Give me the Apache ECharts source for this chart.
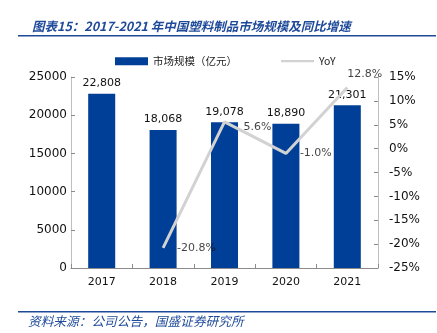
<!DOCTYPE html>
<html><head><meta charset="utf-8">
<script src="https://cdn.jsdelivr.net/npm/echarts@6/dist/echarts.min.js"></script>
<style>html,body{margin:0;padding:0;background:#fff}#c{width:437px;height:333px}</style>
</head><body><div id="c"></div>
<script>
const categories = ['2017','2018','2019','2020','2021'];
const marketSize = [22808, 18068, 19078, 18890, 21301];
const yoy = [null, -20.8, 5.6, -1.0, 12.8];
const leftTicks = [0, 5000, 10000, 15000, 20000, 25000];
const rightTicks = [-25, -20, -15, -10, -5, 0, 5, 10, 15];

const chart = echarts.init(document.getElementById('c'));
const yoyLabelPos = [null, 'right', [19, 0], 'right', [0, -19]];
const fontFam = '"DejaVu Sans", Verdana, sans-serif';
const axisGray = '#bfbfbf';
chart.setOption({
  animation: false,
  textStyle: { fontFamily: fontFam },
  title: {
    text: '图表15：2017-2021 年中国塑料制品市场规模及同比增速',
    left: 27, top: 15,
    textStyle: { color: '#1f4a9a', fontSize: 12.5, fontStyle: 'italic', fontWeight: 'bold', fontFamily: '"Noto Sans CJK SC", sans-serif' }
  },
  graphic: [
    { type: 'rect', shape: { x: 18, y: 35, width: 418, height: 1.5 }, style: { fill: '#1f4a9a' } },
    { type: 'rect', shape: { x: 18, y: 311, width: 418, height: 1.5 }, style: { fill: '#1f4a9a' } },
    { type: 'text', left: 28, top: 315, style: { text: '资料来源：公司公告，国盛证券研究所', fill: '#1f4a9a', font: 'italic 12.7px "Noto Sans CJK SC", sans-serif' } }
  ],
  legend: {
    top: 51, left: 110, itemGap: 44,
    itemWidth: 33, itemHeight: 8,
    textStyle: { fontSize: 10.5, color: '#222', fontFamily: '"Noto Sans CJK SC", sans-serif' },
    data: [
      { name: '市场规模（亿元）', icon: 'rect' },
      { name: 'YoY', icon: 'path://M0,0L44,0L44,3L0,3Z', itemStyle: { color: '#d2d2d2' } }
    ]
  },
  grid: { left: 71, right: 59, top: 77, bottom: 65, containLabel: false },
  xAxis: {
    type: 'category', data: categories,
    axisLine: { lineStyle: { color: '#8c8c8c' } },
    axisTick: { show: true, inside: true, length: 4, lineStyle: { color: '#8c8c8c' } },
    axisLabel: { color: '#111', fontSize: 11, margin: 9 }
  },
  yAxis: [
    {
      type: 'value', min: 0, max: 25000, interval: 5000,
      splitLine: { show: false },
      axisLine: { show: true, lineStyle: { color: axisGray } },
      axisTick: { show: true, inside: true, length: 4, lineStyle: { color: '#8c8c8c' } },
      axisLabel: { color: '#111', fontSize: 12, margin: 4, formatter: v => leftTicks.includes(v) ? String(v) : '' }
    },
    {
      type: 'value', min: -25, max: 15, interval: 5,
      splitLine: { show: false },
      axisLine: { show: true, lineStyle: { color: axisGray } },
      axisTick: { show: true, inside: true, length: 4, lineStyle: { color: '#8c8c8c' } },
      axisLabel: { color: '#111', fontSize: 12, margin: 11, formatter: v => rightTicks.includes(v) ? v + '%' : '' }
    }
  ],
  series: [
    {
      name: '市场规模（亿元）', type: 'bar', data: marketSize, barWidth: '44%',
      itemStyle: { color: '#003f98' },
      label: { show: true, position: 'top', color: '#111', fontSize: 11, distance: 5,
        formatter: p => p.value.toLocaleString('en-US') }
    },
    {
      name: 'YoY', type: 'line', yAxisIndex: 1,
      data: yoy.map(v => v === null ? '-' : v),
      symbol: 'none',
      lineStyle: { color: '#d2d2d2', width: 3 },
      itemStyle: { color: '#d2d2d2' }
    },
    {
      name: 'YoYLabel', type: 'scatter', yAxisIndex: 1,
      data: yoy.map((v, i) => v === null ? '-' : { value: v, label: { position: yoyLabelPos[i] } }),
      symbolSize: 0, silent: true,
      itemStyle: { color: 'rgba(0,0,0,0)' },
      label: { show: true, color: '#111', fontSize: 11, distance: 14, formatter: p => p.value.toFixed(1) + '%' }
    }
  ]
});
</script></body></html>
